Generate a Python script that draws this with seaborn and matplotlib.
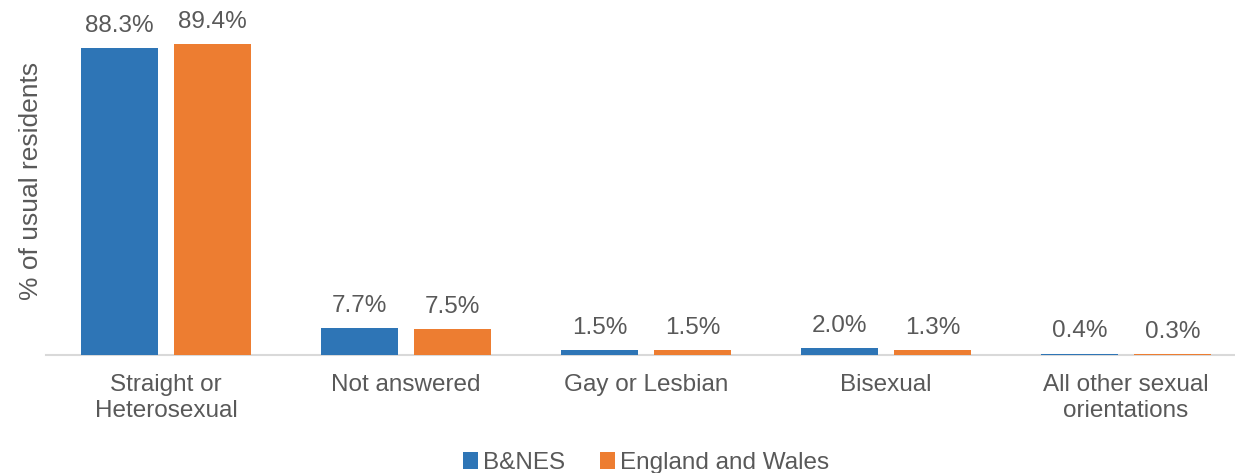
import pandas as pd
import matplotlib.pyplot as plt
import seaborn as sns

categories = ['Straight or\nHeterosexual', 'Not answered', 'Gay or Lesbian', 'Bisexual',
              'All other sexual\norientations']
bnes = [88.3, 7.7, 1.5, 2.0, 0.4]
england_wales = [89.4, 7.5, 1.5, 1.3, 0.3]
areas = ['B&NES', 'England and Wales']

df = pd.DataFrame({
    'Category': categories * 2,
    'Area': [areas[0]] * 5 + [areas[1]] * 5,
    'Pct': bnes + england_wales,
})

sns.set_theme(style='white')
plt.rcParams['font.family'] = ['Liberation Sans', 'DejaVu Sans']
text_col = '#595959'
fs = 17.5

fig = plt.figure(figsize=(12.35, 4.73), dpi=100)
ax = fig.add_axes([46 / 1235, 118 / 473, 1200 / 1235, 348 / 473])

sns.barplot(data=df, x='Category', y='Pct', hue='Area', order=categories, hue_order=areas,
            palette=['#2E75B6', '#ED7D31'], width=0.775, gap=0.18, saturation=1, ax=ax,
            zorder=3, linewidth=0)

for cont in ax.containers:
    ax.bar_label(cont, fmt='%.1f%%', padding=8, fontsize=fs, color=text_col)

ax.set_ylim(0, 100)
ax.set_xlim(-0.5, 4.5)
ax.set_yticks([])
ax.set_xlabel('')
ax.set_ylabel('% of usual residents', fontsize=19, color=text_col, labelpad=2.5)
ax.tick_params(axis='x', length=0, pad=14, labelsize=fs, labelcolor=text_col)
for s in ['top', 'right', 'left']:
    ax.spines[s].set_visible(False)
ax.spines['bottom'].set_color('#D9D9D9')
ax.spines['bottom'].set_linewidth(1.5)
ax.spines['bottom'].set_zorder(1)

handles, labels = ax.get_legend_handles_labels()
ax.get_legend().remove()
fig.legend(handles, labels, loc='center', bbox_to_anchor=(646 / 1235, 10 / 473), ncol=2,
           frameon=False, fontsize=fs, labelcolor=text_col, handlelength=0.65,
           handleheight=0.65, handletextpad=0.2, columnspacing=1.4)

fig.savefig('out.png', dpi=100)
